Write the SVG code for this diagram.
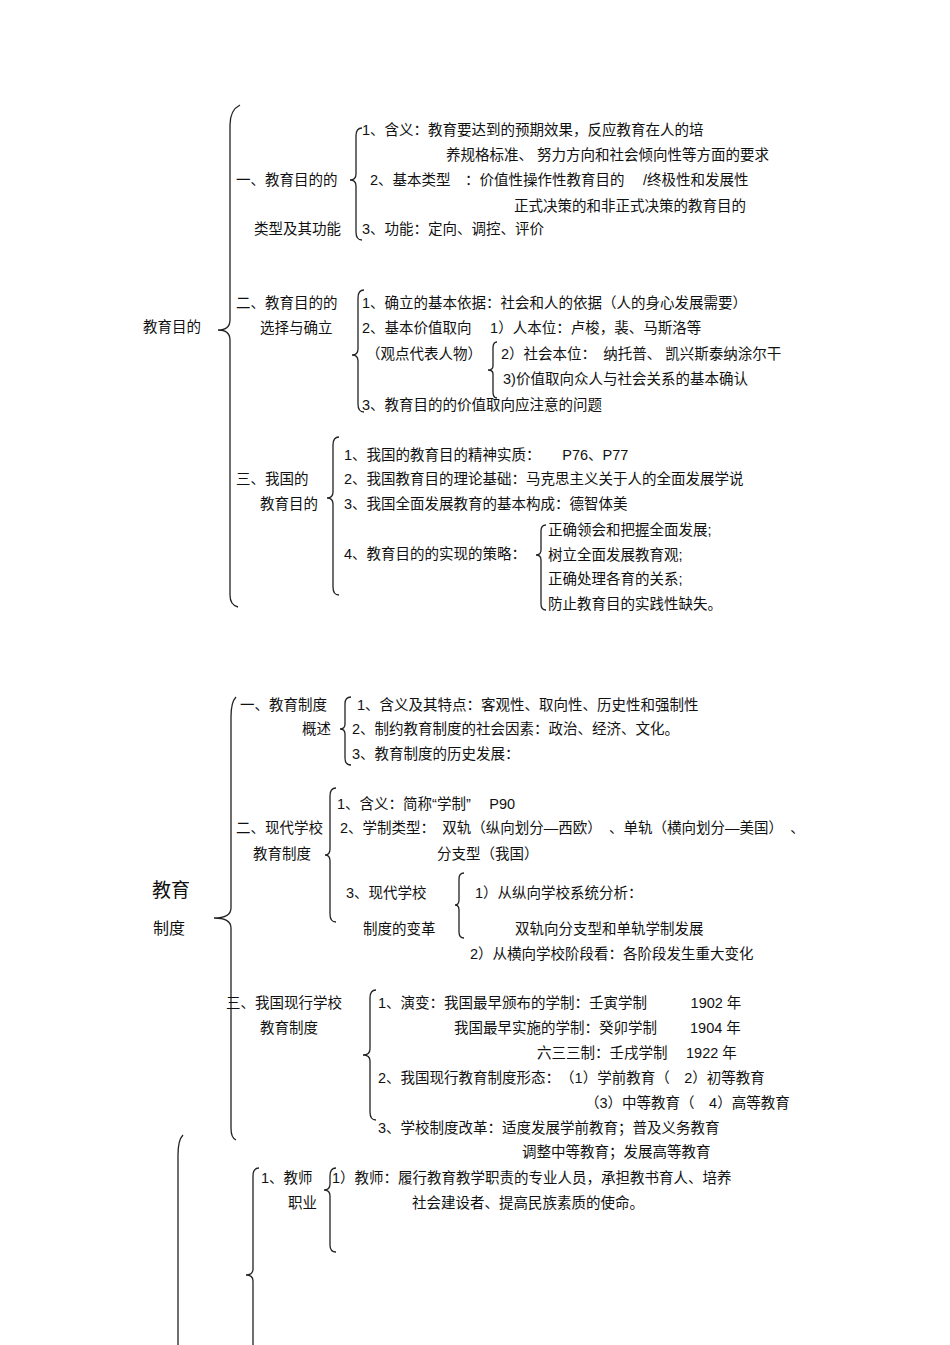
<svg xmlns="http://www.w3.org/2000/svg" width="950" height="1345" viewBox="0 0 950 1345">
<style>
text{font-family:"Liberation Sans","Noto Sans CJK SC",sans-serif;font-size:14.5px;fill:#111}
.big{font-size:19px}
.b{fill:none;stroke:#222;stroke-width:1.3}
</style>
<rect width="950" height="1345" fill="#fff"/>
<g id="connectors">
<path class="b" d="M240,105 Q230,110 230,125 L230,320 Q230,330 218,330 Q230,330 230,340 L230,595 Q230,605 238,607"/>
<path class="b" d="M362,128 Q356,128 356,136 L356,174 Q356,180 350,180 Q356,180 356,186 L356,232 Q356,240 362,240"/>
<path class="b" d="M364,290 Q358,290 358,298 L358,349 Q358,355 352,355 Q358,355 358,361 L358,404 Q358,412 364,412"/>
<path class="b" d="M497,342 Q493,342 493,348 L493,366 Q493,370 488,370 Q493,370 493,374 L493,392 Q493,398 497,398"/>
<path class="b" d="M339,437 Q333,437 333,445 L333,492 Q333,498 327,498 Q333,498 333,504 L333,587 Q333,595 339,595"/>
<path class="b" d="M546,525 Q541,525 541,531 L541,550 Q541,555 536,555 Q541,555 541,560 L541,604 Q541,610 546,610"/>
<path class="b" d="M236,697 Q231,702 231,717 L231,908 Q231,918 214,918 Q231,918 231,928 L231,1128 Q231,1138 236,1140"/>
<path class="b" d="M351,697 Q345,697 345,704 L345,724 Q345,729 340,729 Q345,729 345,734 L345,758 Q345,765 351,765"/>
<path class="b" d="M336,788 Q330,788 330,796 L330,849 Q330,855 325,855 Q330,855 330,861 L330,914 Q330,922 336,922"/>
<path class="b" d="M464,873 Q459,873 459,879 L459,900 Q459,905 455,905 Q459,905 459,910 L459,932 Q459,938 464,938"/>
<path class="b" d="M376,990 Q370,990 370,998 L370,1049 Q370,1055 363,1055 Q370,1055 370,1061 L370,1112 Q370,1120 376,1120"/>
<path class="b" d="M183,1135 Q178,1140 178,1155 L178,1345"/>
<path class="b" d="M259,1168 Q253,1168 253,1176 L253,1269 Q253,1275 246,1275 Q253,1275 253,1281 L253,1345"/>
<path class="b" d="M336,1168 Q330,1168 330,1176 L330,1184 Q330,1190 324,1190 Q330,1190 330,1196 L330,1245 Q330,1252 336,1252"/>
</g>
<g id="n-jymd"><text x="143" y="332">教育目的</text></g>
<g id="n-1"><text x="236" y="185">一、教育目的的</text><text x="254" y="234">类型及其功能</text>
<text x="362" y="135">1、含义：教育要达到的预期效果，反应教育在人的培</text>
<text x="446" y="160">养规格标准、 努力方向和社会倾向性等方面的要求</text>
<text x="370" y="185">2、基本类型　：价值性操作性教育目的　 /终极性和发展性</text>
<text x="514" y="211">正式决策的和非正式决策的教育目的</text>
<text x="362" y="234">3、功能：定向、调控、评价</text></g>
<g id="n-2"><text x="236" y="308">二、教育目的的</text><text x="260" y="333">选择与确立</text>
<text x="362" y="308">1、确立的基本依据：社会和人的依据（人的身心发展需要）</text>
<text x="362" y="333">2、基本价值取向　 1）人本位：卢梭，裴、马斯洛等</text>
<text x="366" y="359">（观点代表人物）</text>
<text x="501" y="359">2）社会本位：　纳托普、 凯兴斯泰纳涂尔干</text>
<text x="503" y="384">3)价值取向众人与社会关系的基本确认</text>
<text x="362" y="410">3、教育目的的价值取向应注意的问题</text></g>
<g id="n-3"><text x="236" y="484">三、我国的</text><text x="260" y="509">教育目的</text>
<text x="344" y="460">1、我国的教育目的精神实质：　　P76、P77</text>
<text x="344" y="484">2、我国教育目的理论基础：马克思主义关于人的全面发展学说</text>
<text x="344" y="509">3、我国全面发展教育的基本构成：德智体美</text>
<text x="344" y="559">4、教育目的的实现的策略：</text>
<text x="548" y="535">正确领会和把握全面发展;</text>
<text x="548" y="560">树立全面发展教育观;</text>
<text x="548" y="584">正确处理各育的关系;</text>
<text x="548" y="609">防止教育目的实践性缺失。</text></g>
<g id="n-jyzd"><text class="big" x="152" y="897">教育</text><text x="153" y="934" style="font-size:16px">制度</text></g>
<g id="n-c1"><text x="240" y="710">一、教育制度</text><text x="302" y="734">概述</text>
<text x="357" y="710">1、含义及其特点：客观性、取向性、历史性和强制性</text>
<text x="352" y="734">2、制约教育制度的社会因素：政治、经济、文化。</text>
<text x="352" y="759">3、教育制度的历史发展：</text></g>
<g id="n-c2"><text x="236" y="833">二、现代学校</text><text x="253" y="859">教育制度</text>
<text x="337" y="809">1、含义：简称“学制”　 P90</text>
<text x="340" y="833">2、学制类型：　双轨（纵向划分—西欧）　、单轨（横向划分—美国）　、</text>
<text x="437" y="859">分支型（我国）</text>
<text x="346" y="898">3、现代学校</text><text x="363" y="934">制度的变革</text>
<text x="475" y="898">1）从纵向学校系统分析：</text>
<text x="515" y="934">双轨向分支型和单轨学制发展</text>
<text x="470" y="959">2）从横向学校阶段看：各阶段发生重大变化</text></g>
<g id="n-c3"><text x="226" y="1008">三、我国现行学校</text><text x="260" y="1033">教育制度</text>
<text x="378" y="1008">1、演变：我国最早颁布的学制：壬寅学制　　　1902 年</text>
<text x="454" y="1033">我国最早实施的学制：癸卯学制　　 1904 年</text>
<text x="537" y="1058">六三三制：壬戌学制　 1922 年</text>
<text x="378" y="1083">2、我国现行教育制度形态：　（1）学前教育（　2）初等教育</text>
<text x="585" y="1108">（3）中等教育（　4）高等教育</text>
<text x="378" y="1133">3、学校制度改革：适度发展学前教育；普及义务教育</text>
<text x="522" y="1157">调整中等教育；发展高等教育</text></g>
<g id="n-d1"><text x="261" y="1183">1、教师</text><text x="288" y="1208">职业</text>
<text x="332" y="1183">1）教师：履行教育教学职责的专业人员，承担教书育人、培养</text>
<text x="412" y="1208">社会建设者、提高民族素质的使命。</text></g>
</svg>
